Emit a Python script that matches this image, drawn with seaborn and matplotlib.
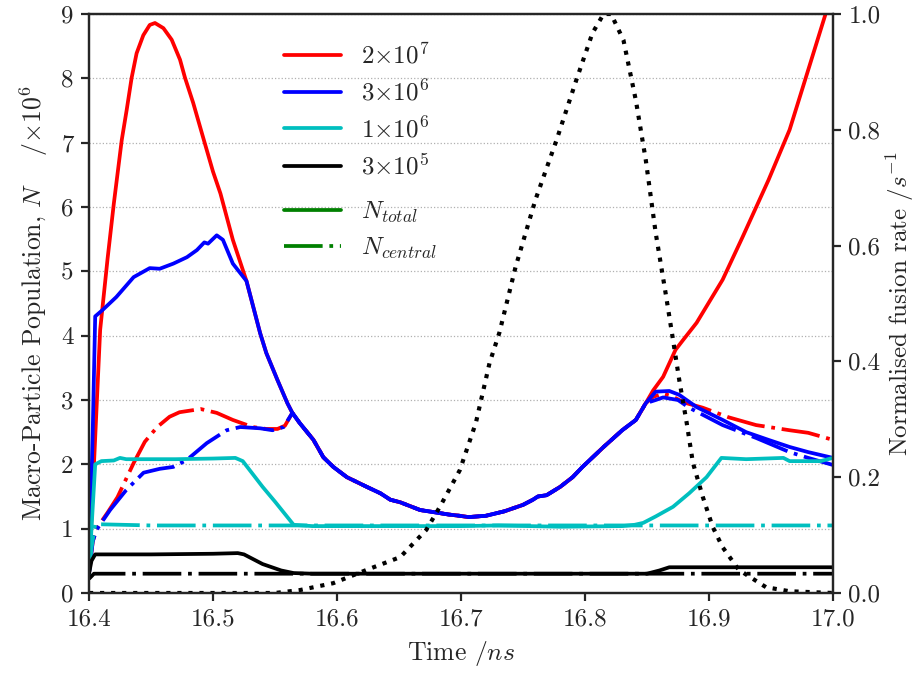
import numpy as np
import pandas as pd
import matplotlib
matplotlib.use("Agg")
import matplotlib.pyplot as plt
from matplotlib.lines import Line2D
import seaborn as sns

# ---------------- data ----------------
red_total_t_early = [16.400, 16.404, 16.409, 16.415, 16.420, 16.4264, 16.4304, 16.4344, 16.4384,
                     16.4438, 16.449, 16.4532, 16.460, 16.4667, 16.4734, 16.4774, 16.484, 16.4922,
                     16.500, 16.506, 16.516]
red_total_v_early = [0.30, 2.00, 4.09, 5.20, 6.05, 7.04, 7.51, 8.01, 8.39,
                     8.67, 8.83, 8.86, 8.78, 8.60, 8.29, 8.01, 7.62, 7.07,
                     6.55, 6.21, 5.49]

blue_total_t_early = [16.400, 16.403, 16.405, 16.411, 16.422, 16.436, 16.449, 16.457, 16.468,
                      16.479, 16.487, 16.493, 16.496, 16.503, 16.508, 16.516]
blue_total_v_early = [0.30, 2.50, 4.30, 4.40, 4.60, 4.91, 5.05, 5.04, 5.12,
                      5.22, 5.33, 5.45, 5.43, 5.56, 5.49, 5.12]

# segment where the 2e7 and 3e6 curves (total and central) coincide
shared_t = [16.527, 16.538, 16.543, 16.552, 16.560, 16.564, 16.570, 16.581, 16.589, 16.597,
            16.608, 16.624, 16.635, 16.643, 16.651, 16.667, 16.677, 16.690, 16.699, 16.706,
            16.720, 16.735, 16.750, 16.758, 16.762, 16.769, 16.780, 16.790, 16.798, 16.815,
            16.830, 16.841, 16.849]
shared_v = [4.85, 4.04, 3.73, 3.31, 2.95, 2.80, 2.64, 2.38, 2.11, 1.96,
            1.80, 1.65, 1.55, 1.45, 1.41, 1.29, 1.26, 1.22, 1.20, 1.18,
            1.20, 1.27, 1.37, 1.45, 1.50, 1.52, 1.65, 1.80, 1.96, 2.27,
            2.53, 2.69, 2.95]

red_total_t_late = [16.855, 16.863, 16.873, 16.879, 16.890, 16.911, 16.927, 16.948, 16.965,
                    16.980, 16.994, 17.000]
red_total_v_late = [3.15, 3.36, 3.78, 3.93, 4.20, 4.87, 5.53, 6.42, 7.20, 8.13, 9.00, 9.30]

blue_total_t_late = [16.857, 16.868, 16.876, 16.890, 16.911, 16.930, 16.948, 16.965, 16.980, 17.000]
blue_total_v_late = [3.13, 3.14, 3.08, 2.89, 2.69, 2.50, 2.38, 2.27, 2.19, 2.10]

red_central_t_early = [16.400, 16.403, 16.406, 16.415, 16.423, 16.436, 16.445, 16.455, 16.465,
                       16.473, 16.490, 16.503, 16.516, 16.532, 16.543, 16.552, 16.558]
red_central_v_early = [0.30, 0.80, 1.00, 1.25, 1.49, 2.02, 2.35, 2.58, 2.74,
                       2.81, 2.86, 2.80, 2.69, 2.58, 2.55, 2.55, 2.60]
red_central_t_late = [16.855, 16.863, 16.870, 16.880, 16.895, 16.916, 16.938, 16.965, 16.980, 17.000]
red_central_v_late = [3.05, 3.10, 3.06, 2.96, 2.88, 2.73, 2.61, 2.53, 2.49, 2.38]

blue_central_t_early = [16.400, 16.403, 16.406, 16.417, 16.430, 16.444, 16.457, 16.468, 16.479,
                        16.495, 16.511, 16.522, 16.538, 16.548, 16.557]
blue_central_v_early = [0.30, 0.80, 0.98, 1.29, 1.60, 1.87, 1.93, 1.96, 2.07,
                        2.33, 2.53, 2.58, 2.56, 2.53, 2.58]
blue_central_t_late = [16.857, 16.863, 16.875, 16.884, 16.900, 16.911, 16.938, 16.965, 16.980, 17.000]
blue_central_v_late = [3.00, 3.04, 3.00, 2.88, 2.72, 2.61, 2.41, 2.19, 2.10, 1.99]

cyan_total_t = [16.400, 16.402, 16.405, 16.410, 16.420, 16.425, 16.430, 16.470, 16.500, 16.518,
                16.524, 16.530, 16.540, 16.550, 16.560, 16.565, 16.580, 16.650, 16.700, 16.730,
                16.780, 16.830, 16.840, 16.847, 16.857, 16.871, 16.884, 16.898, 16.910, 16.930,
                16.960, 16.965, 16.990, 17.000]
cyan_total_v = [0.30, 1.00, 2.00, 2.05, 2.06, 2.10, 2.08, 2.08, 2.09, 2.10,
                2.05, 1.90, 1.65, 1.42, 1.18, 1.06, 1.04, 1.04, 1.04, 1.05,
                1.03, 1.04, 1.06, 1.09, 1.19, 1.34, 1.55, 1.80, 2.10, 2.08,
                2.10, 2.05, 2.05, 2.10]

cyan_central_t = [16.400, 16.402, 16.405, 16.450, 16.600, 17.000]
cyan_central_v = [0.30, 0.70, 1.07, 1.05, 1.05, 1.05]

black_total_t = [16.400, 16.402, 16.405, 16.450, 16.500, 16.520, 16.525, 16.540, 16.555, 16.565,
                 16.580, 16.850, 16.860, 16.868, 17.000]
black_total_v = [0.30, 0.50, 0.60, 0.60, 0.61, 0.62, 0.60, 0.45, 0.35, 0.31,
                 0.30, 0.30, 0.35, 0.40, 0.40]

black_central_t = [16.400, 16.404, 17.000]
black_central_v = [0.22, 0.30, 0.30]

fusion_t = [16.400, 16.550, 16.570, 16.597, 16.624, 16.651, 16.672, 16.683, 16.699, 16.712,
            16.723, 16.731, 16.744, 16.760, 16.777, 16.793, 16.806, 16.815, 16.821, 16.831,
            16.841, 16.849, 16.857, 16.865, 16.871, 16.876, 16.882, 16.887, 16.895, 16.903,
            16.911, 16.924, 16.946, 16.965, 17.000]
fusion_v = [0.000, 0.000, 0.005, 0.017, 0.040, 0.062, 0.109, 0.149, 0.212, 0.294,
            0.397, 0.450, 0.563, 0.679, 0.782, 0.886, 0.967, 1.000, 1.000, 0.955,
            0.851, 0.748, 0.622, 0.518, 0.437, 0.368, 0.294, 0.225, 0.166, 0.114,
            0.079, 0.040, 0.010, 0.003, 0.000]

legend_labels = [r"$2{\times}10^7$", r"$3{\times}10^6$", r"$1{\times}10^6$", r"$3{\times}10^5$"]
legend_labels2 = [r"$N_{total}$", r"$N_{central}$"]
x_ticks = [16.4, 16.5, 16.6, 16.7, 16.8, 16.9, 17.0]
y_ticks = list(range(0, 10))
y2_ticks = [0.0, 0.2, 0.4, 0.6, 0.8, 1.0]

# ---------------- style ----------------
sns.set_style("ticks")
plt.rcParams.update({
    "font.family": "serif",
    "font.serif": ["cmr10", "DejaVu Serif"],
    "mathtext.fontset": "cm",
    "axes.formatter.use_mathtext": True,
    "axes.unicode_minus": False,
    "font.size": 18,
    "axes.linewidth": 1.6,
    "lines.dashdot_pattern": [10.3, 1.8, 1, 1.8],
    "lines.dotted_pattern": [1, 1.65],
})

RED, BLUE, CYAN, BLACK, GREEN = "#ff0000", "#0000ff", "#00bfbf", "#000000", "#008000"
LW = 2.7

fig = plt.figure(figsize=(9.16, 6.75), dpi=100)
ax = fig.add_axes([89 / 916, 1 - 593 / 675, (833 - 89) / 916, (593 - 14) / 675])
ax2 = ax.twinx()


def series(t, v):
    return pd.DataFrame({"t": t, "v": v})


def draw(t, v, color, ls, axis=ax, lw=LW):
    sns.lineplot(data=series(t, v), x="t", y="v", ax=axis, color=color, linestyle=ls,
                 linewidth=lw, sort=False, estimator=None, legend=False)


red_total_t = red_total_t_early + shared_t + red_total_t_late
red_total_v = red_total_v_early + shared_v + red_total_v_late
blue_total_t = blue_total_t_early + shared_t + blue_total_t_late
blue_total_v = blue_total_v_early + shared_v + blue_total_v_late
red_central_t = red_central_t_early + shared_t[5:] + red_central_t_late
red_central_v = red_central_v_early + shared_v[5:] + red_central_v_late
blue_central_t = blue_central_t_early + shared_t[5:] + blue_central_t_late
blue_central_v = blue_central_v_early + shared_v[5:] + blue_central_v_late

ax.yaxis.grid(True, linestyle=":", color="#b0b0b0", lw=0.9)
ax.set_axisbelow(True)

draw(red_total_t, red_total_v, RED, "-")
draw(red_central_t, red_central_v, RED, "-.")
draw(blue_total_t, blue_total_v, BLUE, "-")
draw(blue_central_t, blue_central_v, BLUE, "-.")
draw(cyan_total_t, cyan_total_v, CYAN, "-")
draw(cyan_central_t, cyan_central_v, CYAN, "-.")
draw(black_total_t, black_total_v, BLACK, "-")
draw(black_central_t, black_central_v, BLACK, "-.")
draw(fusion_t, fusion_v, BLACK, ":", axis=ax2, lw=3.0)

ax.set_xlim(16.4, 17.0)
ax.set_ylim(0, 9)
ax2.set_ylim(0, 1)
ax.set_xticks(x_ticks)
ax.set_xticklabels([f"{x:.1f}" for x in x_ticks])
ax.set_yticks(y_ticks)
ax.set_yticklabels([str(y) for y in y_ticks])
ax2.set_yticks(y2_ticks)
ax2.set_yticklabels([f"{y:.1f}" for y in y2_ticks])

for a in (ax, ax2):
    a.tick_params(direction="out", length=6, width=1.6, labelsize=18, pad=5)
    for s in a.spines.values():
        s.set_visible(True)
        s.set_linewidth(1.6)

ax.set_xlabel(r"Time $/ns$", fontsize=18.5, labelpad=6)
ax.set_ylabel(r"Macro-Particle Population, $N$ $\quad/{\times}10^6$", fontsize=18.5, labelpad=8)
ax2.set_ylabel(r"Normalised fusion rate $/s^{-1}$", fontsize=18, rotation=90, labelpad=3)

common = dict(loc="upper left", bbox_transform=fig.transFigure, frameon=False, fontsize=18,
              handlelength=2.3, handletextpad=0.8, labelspacing=0.45, borderpad=0.4)
h1 = [Line2D([], [], color=c, lw=LW) for c in (RED, BLUE, CYAN, BLACK)]
leg1 = ax2.legend(h1, legend_labels, bbox_to_anchor=(261 / 916, 1 - 20 / 675), **common)
ax2.add_artist(leg1)
h2 = [Line2D([], [], color=GREEN, lw=LW, ls="-"), Line2D([], [], color=GREEN, lw=LW, ls="-.")]
leg2 = ax2.legend(h2, legend_labels2, bbox_to_anchor=(261 / 916, 1 - 177 / 675), **common)

fig.savefig("out.png", dpi=100)
